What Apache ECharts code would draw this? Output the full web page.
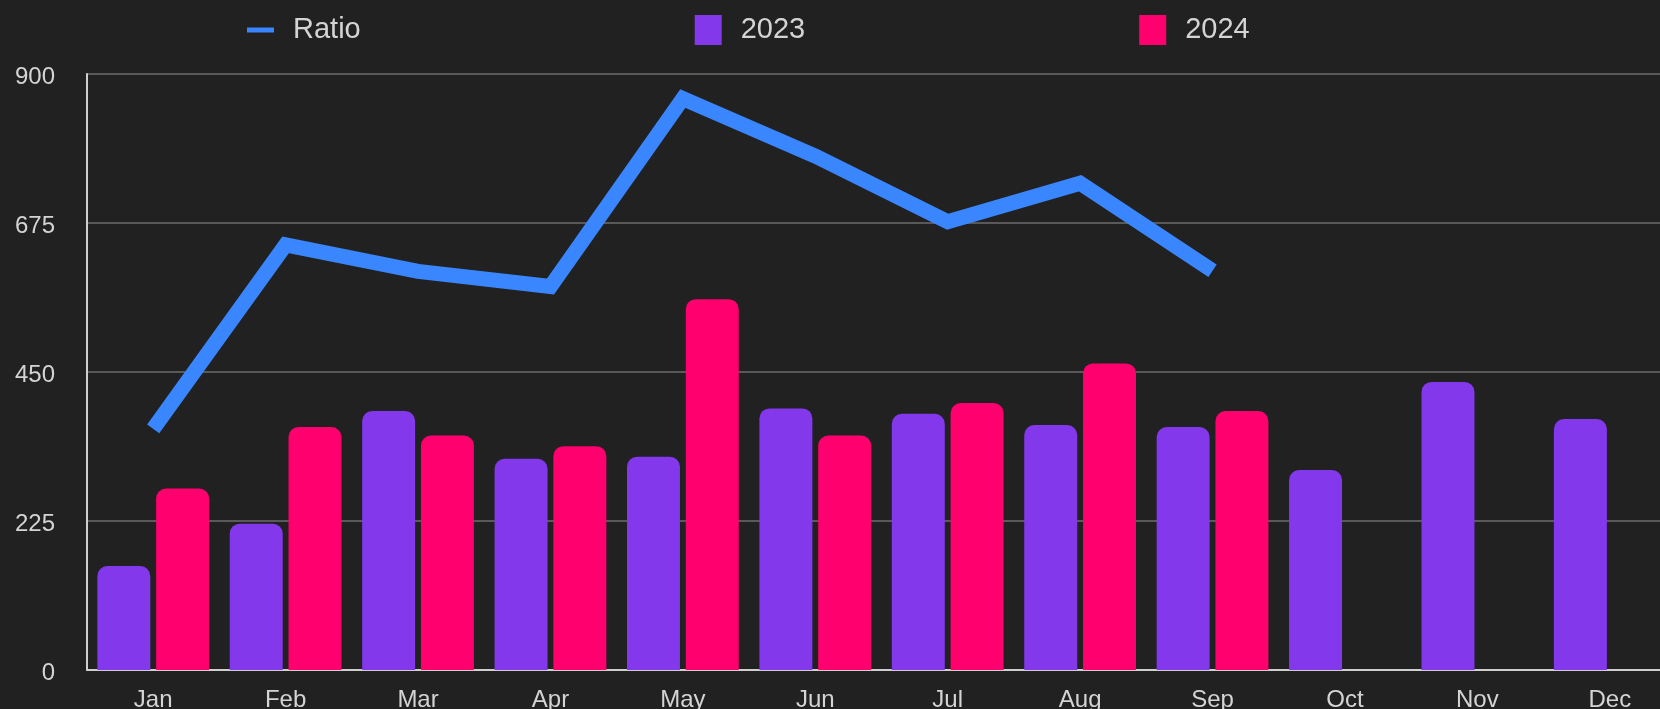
<!DOCTYPE html>
<html>
<head>
<meta charset="utf-8">
<script src="https://cdn.jsdelivr.net/npm/echarts@6/dist/echarts.min.js"></script>
<style>
  html, body { margin: 0; padding: 0; background: #212121; }
  #main { width: 1660px; height: 709px; }
</style>
</head>
<body>
<div id="main"></div>
<script>
const months = ['Jan', 'Feb', 'Mar', 'Apr', 'May', 'Jun', 'Jul', 'Aug', 'Sep', 'Oct', 'Nov', 'Dec']
const values2023 = [157, 221, 391, 319, 322, 395, 387, 370, 367, 302, 435, 379]
const values2024 = [274, 367, 354, 338, 560, 354, 403, 463, 391, '-', '-', '-']
const ratio = [364, 642, 602, 579, 863, 776, 677, 735, 603]
const yTicks = [0, 225, 450, 675, 900]

const font = '"Liberation Sans", Arial, Helvetica, sans-serif'

const option = {
  backgroundColor: '#212121',
  animation: false,
  legend: {
    left: 242,
    top: 10,
    itemWidth: 27,
    itemHeight: 30,
    itemGap: 334,
    textStyle: { color: '#d4d4d4', fontSize: 29, fontFamily: font, padding: [0, 0, 0, 14] },
    data: [
      { name: 'Ratio', icon: 'path://M0,0H27V5H0Z', itemStyle: { color: '#3a86ff' } },
      { name: '2023', icon: 'rect' },
      { name: '2024', icon: 'rect' }
    ]
  },
  // plot runs a little past the right edge of the page, as in the original
  grid: {
    left: 87,
    width: 1589,
    top: 74,
    bottom: 39,
    containLabel: false,
    outerBoundsMode: 'none'
  },
  xAxis: {
    type: 'category',
    data: months,
    axisTick: { show: false },
    axisLine: { lineStyle: { color: '#cfcfcf', width: 2 } },
    axisLabel: { color: '#d4d4d4', fontSize: 24, fontFamily: font, margin: 18 }
  },
  yAxis: {
    type: 'value',
    min: yTicks[0],
    max: yTicks[yTicks.length - 1],
    interval: yTicks[1] - yTicks[0],
    axisLine: { show: true, lineStyle: { color: '#cfcfcf', width: 2 } },
    axisTick: { show: false },
    splitLine: { lineStyle: { color: '#595959', width: 2 } },
    axisLabel: {
      color: '#d4d4d4', fontSize: 24, fontFamily: font, margin: 32,
      verticalAlign: 'top', lineHeight: 6
    }
  },
  series: [
    {
      name: 'Ratio',
      type: 'line',
      data: ratio,
      showSymbol: false,
      z: 5,
      color: '#3a86ff',
      lineStyle: { color: '#3a86ff', width: 15, join: 'miter', cap: 'butt' }
    },
    {
      name: '2023',
      type: 'bar',
      data: values2023,
      barGap: '11%',
      barCategoryGap: '15.6%',
      itemStyle: { color: '#8338ec', borderRadius: [10, 10, 0, 0] }
    },
    {
      name: '2024',
      type: 'bar',
      data: values2024,
      itemStyle: { color: '#ff006e', borderRadius: [10, 10, 0, 0] }
    }
  ]
}

const chart = echarts.init(document.getElementById('main'))
chart.setOption(option)
</script>
</body>
</html>
